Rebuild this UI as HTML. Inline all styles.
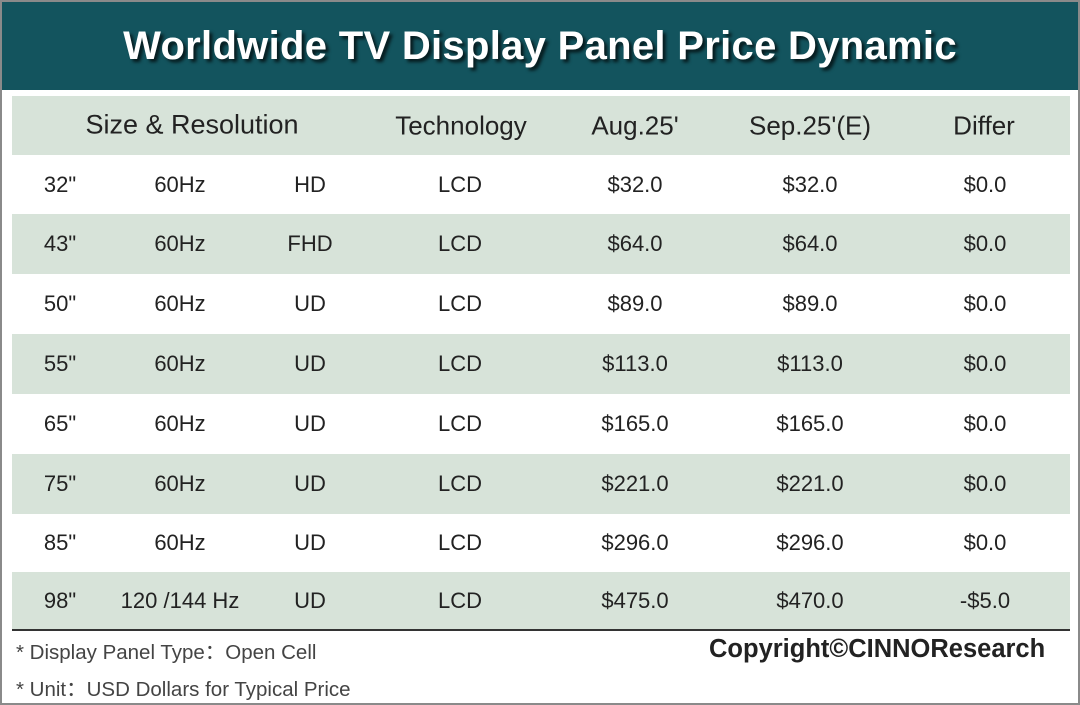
<!DOCTYPE html>
<html><head><meta charset="utf-8"><style>
body{margin:0;width:1080px;height:705px;background:#fff;position:relative;overflow:hidden;font-family:"Liberation Sans","DejaVu Sans",sans-serif;}
#frame{position:absolute;left:0;top:0;width:1076px;height:701px;border:2px solid #8a8a8a;}
#title-band{position:absolute;left:0;top:0;width:1080px;height:90px;background:#13545e;}
#title{position:absolute;left:0;top:0;width:1080px;height:92px;line-height:92px;text-align:center;color:#fff;font-weight:bold;font-size:40px;letter-spacing:0.3px;text-shadow:3px 3px 3px rgba(0,0,0,0.7);}
.band{position:absolute;left:12px;width:1058px;background:#d7e3d9;}
.t{position:absolute;transform:translate(-50%,-50%);white-space:nowrap;color:#222;font-size:22px;}
.h{font-size:26px;}
.note{position:absolute;left:16px;font-size:20.5px;color:#444;}
</style></head><body>
<div id="title-band"></div>
<div id="title">Worldwide TV Display Panel Price Dynamic</div>
<div class="band" style="top:96px;height:59px"></div>
<div class="t h" style="left:192px;top:125px;font-size:27px">Size &amp; Resolution</div>
<div class="t h" style="left:461px;top:126px">Technology</div>
<div class="t h" style="left:635px;top:126px">Aug.25'</div>
<div class="t h" style="left:810px;top:126px">Sep.25'(E)</div>
<div class="t h" style="left:984px;top:126px">Differ</div>
<div id="rows"></div>
<div style="position:absolute;left:12px;top:629px;width:1058px;height:2px;background:#333"></div>
<div class="note" style="top:635px">* Display Panel Type：Open Cell</div>
<div class="note" style="top:672px">* Unit：USD Dollars for Typical Price</div>
<div style="position:absolute;left:709px;top:635px;font-size:25.5px;font-weight:bold;color:#222">Copyright©CINNOResearch</div>
<div id="frame"></div>
<script>
const sizes=['32"','43"','50"','55"','65"','75"','85"','98"'];
const rates=['60Hz','60Hz','60Hz','60Hz','60Hz','60Hz','60Hz','120 /144 Hz'];
const resolutions=['HD','FHD','UD','UD','UD','UD','UD','UD'];
const tech=['LCD','LCD','LCD','LCD','LCD','LCD','LCD','LCD'];
const aug=[32,64,89,113,165,221,296,475];
const sep=[32,64,89,113,165,221,296,470];
const rowTops=[155,214,274,334,394,454,514,572,630];
const colX=[60,180,310,460,635,810,985];
const R=document.getElementById('rows');
function fmt(v){return (v<0?'-$':'$')+Math.abs(v).toFixed(1);}
for(let i=0;i<sizes.length;i++){
  const top=rowTops[i],h=rowTops[i+1]-top,cy=top+h/2;
  if(i%2==1){const b=document.createElement('div');b.className='band';b.style.top=top+'px';b.style.height=h+'px';
  
  
  R.appendChild(b);}
  const vals=[sizes[i],rates[i],resolutions[i],tech[i],fmt(aug[i]),fmt(sep[i]),fmt(sep[i]-aug[i])];
  const names=['size','refresh-rate','resolution','technology','aug-price','sep-price','differ'];
  vals.forEach((v,j)=>{const d=document.createElement('div');d.className='t';d.textContent=v;
  d.style.left=colX[j]+'px';d.style.top=cy+'px';
  
  
  R.appendChild(d);});
}
</script>
</body></html>
